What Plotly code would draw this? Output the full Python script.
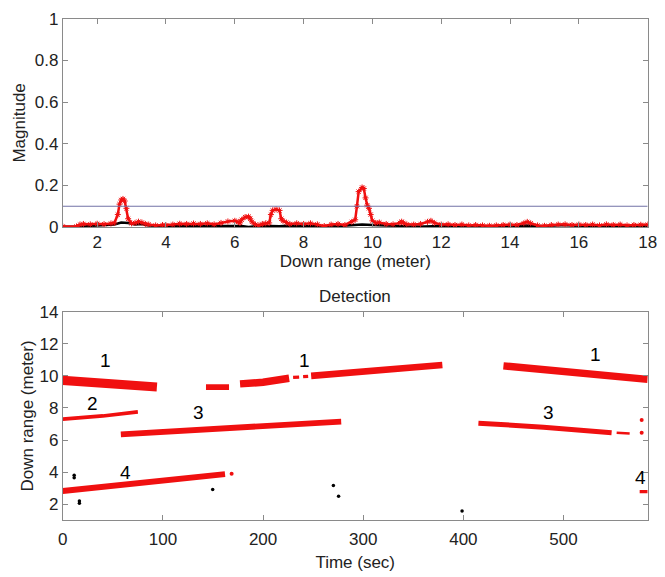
import plotly.graph_objects as go

# ---------------- Top panel data: magnitude vs down range ----------------
range_red = [1.0, 1.4, 1.5, 1.6, 1.8, 2.0, 2.2, 2.4, 2.5, 2.6, 2.65, 2.7, 2.75, 2.8, 2.85, 2.9,
             3.0, 3.1, 3.2, 3.3, 3.4, 3.5, 3.7, 3.9, 4.0, 4.2, 4.4, 4.6, 4.8, 5.0, 5.2, 5.4,
             5.6, 5.8, 6.0, 6.1, 6.15, 6.2, 6.3, 6.4, 6.45, 6.5, 6.6, 6.7, 6.8, 6.9, 7.0,
             7.05, 7.1, 7.2, 7.3, 7.35, 7.4, 7.5, 7.6, 7.8, 8.0, 8.2, 8.4, 8.6, 8.8, 9.0,
             9.2, 9.4, 9.5, 9.55, 9.6, 9.7, 9.75, 9.8, 9.85, 9.9, 9.95, 10.0, 10.1, 10.2,
             10.4, 10.6, 10.8, 10.85, 10.9, 11.0, 11.2, 11.4, 11.6, 11.7, 11.8, 12.0, 12.2,
             12.4, 12.6, 12.8, 13.0, 13.2, 13.4, 13.6, 13.8, 14.0, 14.2, 14.4, 14.5, 14.6,
             14.8, 15.0, 15.2, 15.4, 15.6, 15.8, 16.0, 16.2, 16.4, 16.6, 16.8, 17.0, 17.2,
             17.4, 17.6, 17.8, 18.0]
mag_red = [0.003, 0.003, 0.012, 0.015, 0.013, 0.016, 0.014, 0.017, 0.02, 0.06, 0.11, 0.13, 0.135,
           0.125, 0.09, 0.04, 0.018, 0.02, 0.026, 0.022, 0.015, 0.012, 0.008, 0.01, 0.008, 0.012,
           0.016, 0.015, 0.017, 0.015, 0.018, 0.013, 0.02, 0.027, 0.03, 0.025, 0.02, 0.035, 0.048,
           0.05, 0.04, 0.025, 0.012, 0.008, 0.015, 0.018, 0.02, 0.06, 0.08, 0.085, 0.08, 0.04,
           0.03, 0.022, 0.015, 0.018, 0.015, 0.018, 0.013, 0.005, 0.012, 0.015, 0.01, 0.025,
           0.035, 0.1, 0.17, 0.19, 0.185, 0.14, 0.105, 0.09, 0.06, 0.03, 0.02, 0.022, 0.015,
           0.013, 0.02, 0.026, 0.02, 0.013, 0.012, 0.015, 0.025, 0.03, 0.02, 0.012, 0.013, 0.01,
           0.012, 0.008, 0.01, 0.008, 0.006, 0.008, 0.01, 0.012, 0.01, 0.018, 0.025, 0.018,
           0.008, 0.006, 0.01, 0.012, 0.013, 0.01, 0.012, 0.01, 0.012, 0.008, 0.013, 0.01,
           0.012, 0.008, 0.01, 0.011, 0.012]

range_black = [1.0, 1.5, 2.0, 2.5, 2.7, 2.9, 3.1, 3.3, 3.5, 4.0, 5.0, 6.0, 6.2, 6.4, 6.6, 7.0,
               7.3, 7.6, 8.0, 8.5, 9.0, 9.5, 9.7, 10.0, 10.5, 11.0, 11.5, 12.0, 13.0, 14.0,
               14.5, 15.0, 15.5, 16.0, 17.0, 18.0]
mag_black = [0.002, 0.002, 0.008, 0.012, 0.022, 0.02, 0.012, 0.015, 0.008, 0.004, 0.005, 0.006,
             0.005, 0.0, 0.004, 0.005, 0.004, 0.008, 0.006, 0.003, 0.005, 0.008, 0.012, 0.01,
             0.006, 0.004, 0.003, 0.005, 0.003, 0.004, 0.008, 0.004, 0.01, 0.006, 0.005, 0.004]

threshold = 0.1

# ---------------- Bottom panel data: detections over time ----------------
# each track: times, ranges, band thickness (m)
tracks = [
    ([0, 30, 60, 94], [9.72, 9.6, 9.45, 9.3], 0.55),          # 1 (left)
    ([143, 166], [9.3, 9.3], 0.35),                            # 1 (fragment)
    ([177, 200, 226], [9.5, 9.6, 9.85], 0.45),                 # 1
    ([230, 236], [9.9, 9.92], 0.2),                            # 1 dash
    ([240, 245], [9.95, 9.97], 0.2),                           # 1 dash
    ([248, 290, 333, 379], [10.0, 10.25, 10.5, 10.68], 0.4),   # 1
    ([440, 500, 584], [10.62, 10.25, 9.78], 0.45),             # 1 (right)
    ([0, 40, 75], [7.3, 7.5, 7.75], 0.22),                     # 2
    ([58, 150, 278], [6.35, 6.7, 7.15], 0.35),                 # 3 (left)
    ([415, 480, 548], [7.05, 6.8, 6.45], 0.3),                 # 3 (right)
    ([553, 566], [6.45, 6.4], 0.15),                           # 3 fragments
    ([0, 80, 162], [2.82, 3.3, 3.87], 0.35),                   # 4 (left)
    ([576, 584], [2.78, 2.78], 0.2),                           # 4 (right)
]
extra_red_t = [168.6, 578, 578]
extra_red_r = [3.9, 7.24, 6.45]

black_t = [11.4, 11.4, 16.6, 16.6, 149.7, 270.2, 275.4, 398.7]
black_r = [3.65, 3.8, 2.05, 2.2, 2.92, 3.16, 2.5, 1.58]

label_text = ["1", "1", "1", "2", "3", "3", "4", "4"]
label_t = [43, 241, 532, 30, 136, 485, 63, 577]
label_r = [10.95, 10.95, 11.3, 8.25, 7.7, 7.74, 3.97, 3.69]

# ---------------- Figure ----------------
W, H = 665, 577
FONT = "Liberation Sans, Arial"
RED = "#f01010"
fig = go.Figure()

fig.add_trace(go.Scatter(x=range_black, y=mag_black, mode="lines",
                         line=dict(color="black", width=2.5), xaxis="x", yaxis="y",
                         showlegend=False, hoverinfo="skip"))
fig.add_trace(go.Scatter(x=range_red, y=mag_red, mode="lines+markers",
                         line=dict(color=RED, width=2.5),
                         marker=dict(symbol="asterisk-open", size=5, color=RED,
                                     line=dict(color=RED, width=1)),
                         xaxis="x", yaxis="y", showlegend=False, hoverinfo="skip"))
fig.add_trace(go.Scatter(x=[1, 18], y=[threshold, threshold], mode="lines",
                         line=dict(color="#7272a6", width=1.2), xaxis="x", yaxis="y",
                         showlegend=False, hoverinfo="skip"))

# px per meter in bottom panel
ppm = (528.6 - 313) / 13.0
for t, r, th in tracks:
    fig.add_trace(go.Scatter(x=t, y=r, mode="lines",
                             line=dict(color=RED, width=max(th * ppm, 2)),
                             xaxis="x2", yaxis="y2", showlegend=False, hoverinfo="skip"))
fig.add_trace(go.Scatter(x=extra_red_t, y=extra_red_r, mode="markers",
                         marker=dict(color=RED, size=4), xaxis="x2", yaxis="y2",
                         showlegend=False, hoverinfo="skip"))
fig.add_trace(go.Scatter(x=black_t, y=black_r, mode="markers",
                         marker=dict(color="black", size=3.5), xaxis="x2", yaxis="y2",
                         showlegend=False, hoverinfo="skip"))

for txt, t, r in zip(label_text, label_t, label_r):
    fig.add_annotation(x=t, y=r, text=txt, xref="x2", yref="y2", showarrow=False,
                       font=dict(family=FONT, size=19, color="black"))

axis_common = dict(showline=True, linecolor="#8a8a8a", linewidth=1, mirror="ticks",
                   ticks="inside", ticklen=5, tickcolor="#8a8a8a", showgrid=False,
                   zeroline=False, ticklabeloverflow="allow",
                   tickfont=dict(family=FONT, size=17, color="#222"),
                   title_font=dict(family=FONT, size=17, color="#222"))

x0, x1 = 59 / W, 656.5 / W
fig.update_layout(
    width=W, height=H, margin=dict(l=0, r=0, t=0, b=0),
    paper_bgcolor="white", plot_bgcolor="white",
    xaxis=dict(domain=[x0, x1], range=[1, 18], tickvals=list(range(2, 19, 2)),
               anchor="y", title=dict(text="Down range (meter)", standoff=0), **axis_common),
    yaxis=dict(domain=[1 - 225.5 / H, 1 - 10 / H], range=[0, 1],
               tickvals=[0, 0.2, 0.4, 0.6, 0.8, 1], ticktext=["0", "0.2", "0.4", "0.6", "0.8", "1"],
               anchor="x", title=dict(text="Magnitude", standoff=4), **axis_common),
    xaxis2=dict(domain=[x0, x1], range=[0, 584], tickvals=[0, 100, 200, 300, 400, 500],
                anchor="y2", ticklabelstandoff=3,
                title=dict(text="Time (sec)", standoff=8), **axis_common),
    yaxis2=dict(domain=[1 - 528.6 / H, 1 - 313 / H], range=[1, 14],
                tickvals=[2, 4, 6, 8, 10, 12, 14],
                anchor="x2", title=dict(text="Down range (meter)", standoff=1), **axis_common),
)
fig.add_annotation(text="Detection", x=(x0 + x1) / 2, y=1 - 297 / H, xref="paper", yref="paper",
                   showarrow=False, font=dict(family=FONT, size=17, color="#222"))

fig.write_html("out.html")
